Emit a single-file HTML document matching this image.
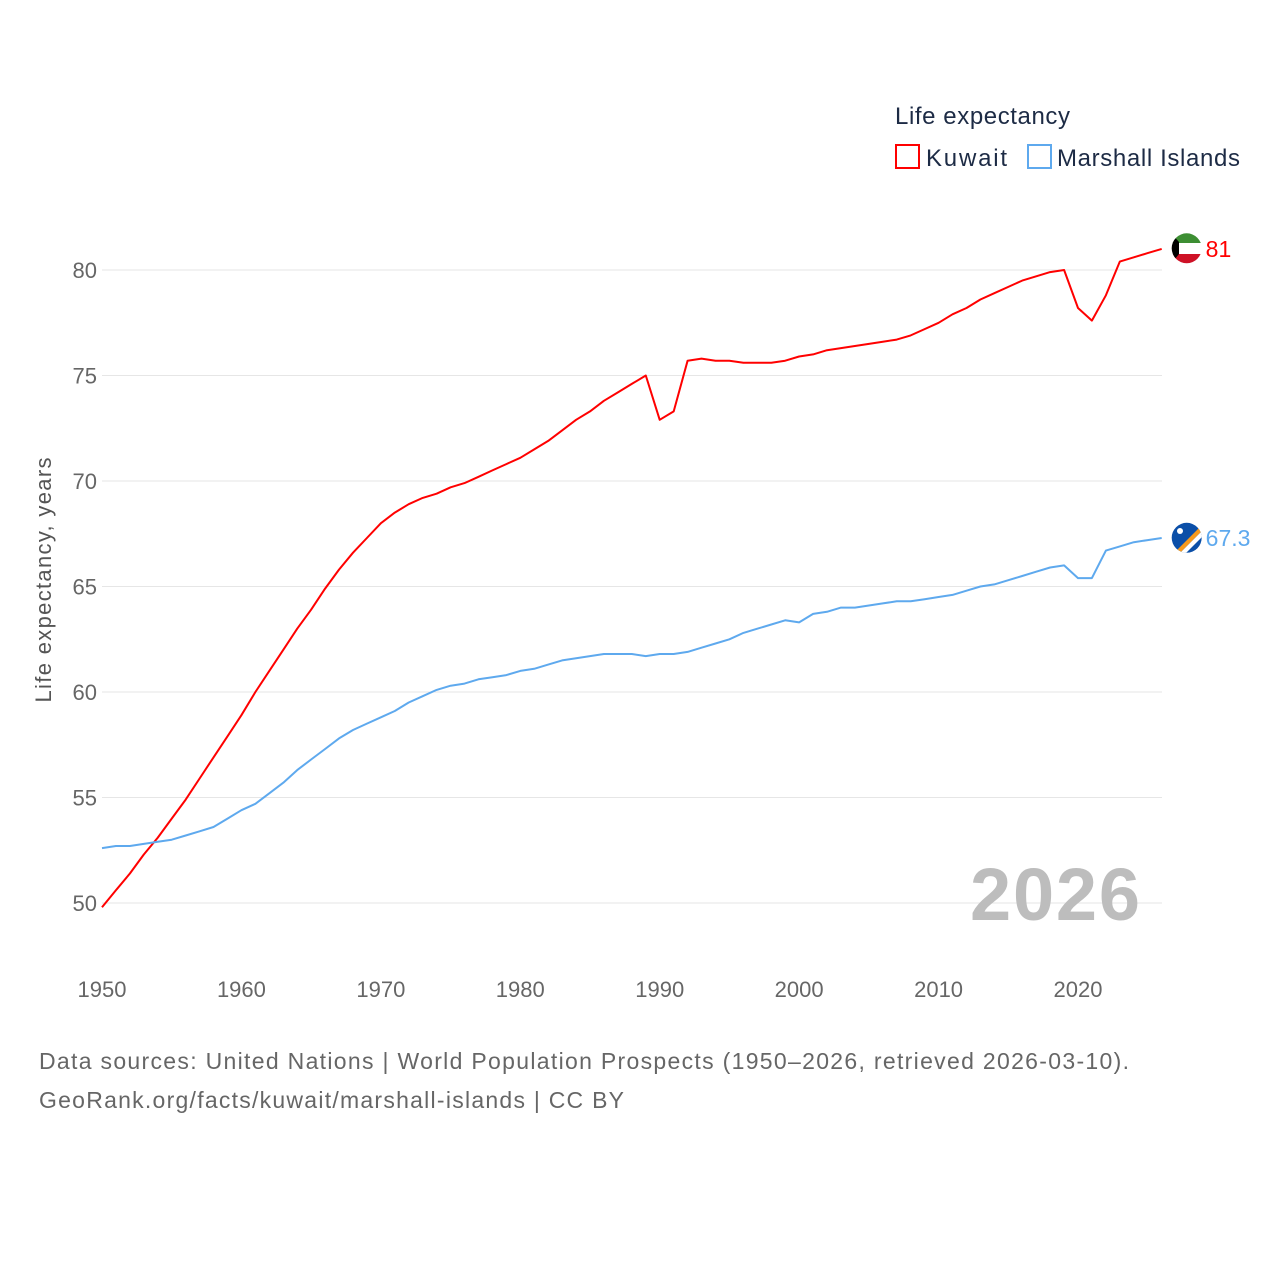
<!DOCTYPE html>
<html><head><meta charset="utf-8"><style>
body{margin:0;background:#fff;font-family:"Liberation Sans",sans-serif;}
svg text{font-family:"Liberation Sans",sans-serif;}
</style></head><body>
<svg id="chart" width="1280" height="1280">
<defs>
<clipPath id="kwclip"><circle cx="1186.7" cy="248.3" r="15"/></clipPath>
<clipPath id="mhclip"><circle cx="1186.7" cy="537.8" r="15"/></clipPath>
</defs>
<text x="895" y="124" font-size="24" fill="#1d2b45" textLength="175">Life expectancy</text>
<g><rect x="896" y="145" width="23" height="23" fill="none" stroke="#f00" stroke-width="2"/><text x="926" y="166" font-size="24" fill="#1d2b45" textLength="81">Kuwait</text></g>
<g><rect x="1028" y="145" width="23" height="23" fill="none" stroke="#5ea9ee" stroke-width="2"/><text x="1057" y="166" font-size="24" fill="#1d2b45" textLength="183">Marshall Islands</text></g>
<g id="grid"></g><g id="axes"></g><g id="series"></g>
<g clip-path="url(#kwclip)">
<rect x="1170" y="232" width="34" height="11" fill="#3d8e33"/><rect x="1170" y="243" width="34" height="11" fill="#fff"/><rect x="1170" y="254" width="34" height="11" fill="#ce1126"/>
<polygon points="1170,232 1179,242 1179,254 1170,265" fill="#000"/></g>
<g clip-path="url(#mhclip)">
<rect x="1170" y="521" width="34" height="34" fill="#0b4fa8"/>
<polygon points="1174,553 1204,523 1204,529 1180,553" fill="#f79a1b"/>
<polygon points="1180,553 1204,529 1204,535 1186,553" fill="#fff"/>
<circle cx="1180" cy="531" r="3" fill="#fff"/></g>
<text x="1140" y="920" text-anchor="end" font-size="74" font-weight="bold" fill="#bdbdbd" textLength="170">2026</text>
<text transform="translate(51,580) rotate(-90)" text-anchor="middle" font-size="22" fill="#555" textLength="245">Life expectancy, years</text>
<text x="39" y="1069" font-size="23" fill="#666" textLength="1090">Data sources: United Nations | World Population Prospects (1950–2026, retrieved 2026-03-10).</text>
<text x="39" y="1108" font-size="23" fill="#666" textLength="585">GeoRank.org/facts/kuwait/marshall-islands | CC BY</text>
</svg>
<script>
const years=[];for(let y=1950;y<=2026;y++)years.push(y);
const kuwait=[49.8,50.6,51.4,52.3,53.1,54.0,54.9,55.9,56.9,57.9,58.9,60.0,61.0,62.0,63.0,63.9,64.9,65.8,66.6,67.3,68.0,68.5,68.9,69.2,69.4,69.7,69.9,70.2,70.5,70.8,71.1,71.5,71.9,72.4,72.9,73.3,73.8,74.2,74.6,75.0,72.9,73.3,75.7,75.8,75.7,75.7,75.6,75.6,75.6,75.7,75.9,76.0,76.2,76.3,76.4,76.5,76.6,76.7,76.9,77.2,77.5,77.9,78.2,78.6,78.9,79.2,79.5,79.7,79.9,80.0,78.2,77.6,78.8,80.4,80.6,80.8,81.0];
const marshall=[52.6,52.7,52.7,52.8,52.9,53.0,53.2,53.4,53.6,54.0,54.4,54.7,55.2,55.7,56.3,56.8,57.3,57.8,58.2,58.5,58.8,59.1,59.5,59.8,60.1,60.3,60.4,60.6,60.7,60.8,61.0,61.1,61.3,61.5,61.6,61.7,61.8,61.8,61.8,61.7,61.8,61.8,61.9,62.1,62.3,62.5,62.8,63.0,63.2,63.4,63.3,63.7,63.8,64.0,64.0,64.1,64.2,64.3,64.3,64.4,64.5,64.6,64.8,65.0,65.1,65.3,65.5,65.7,65.9,66.0,65.4,65.4,66.7,66.9,67.1,67.2,67.3];
const yTicks=[50,55,60,65,70,75,80];
const xTicks=[1950,1960,1970,1980,1990,2000,2010,2020];
const NS="http://www.w3.org/2000/svg";
const X=y=>102+(y-1950)*(1078-102)/70;
const Y=v=>270+(80-v)*(903-270)/30;
function mk(t,a,p){const e=document.createElementNS(NS,t);for(const k in a)e.setAttribute(k,a[k]);p.appendChild(e);return e;}
const g=document.getElementById('grid'),ax=document.getElementById('axes'),s=document.getElementById('series');
yTicks.forEach(v=>{
 const l=mk('line',{x1:102,x2:1162,y1:Y(v),y2:Y(v),stroke:'#e6e6e6','stroke-width':1},g);
 
 
 const t=mk('text',{x:97,y:Y(v)+8,'text-anchor':'end','font-size':22,fill:'#666'},ax);t.textContent=v;
 
 
});
xTicks.forEach(y=>{
 const t=mk('text',{x:X(y),y:997,'text-anchor':'middle','font-size':22,fill:'#666'},ax);t.textContent=y;
 
 
});
function line(data,color,name){
 const d=data.map((v,i)=>(i?'L':'M')+X(years[i]).toFixed(1)+','+Y(v).toFixed(1)).join('');
 const p=mk('path',{d:d,fill:'none',stroke:color,'stroke-width':2,'stroke-linejoin':'round'},s);
 
 
 const last=data[data.length-1],lx=X(years[years.length-1]);
 const t=mk('text',{x:lx+44,y:Y(last)+8,'font-size':23,fill:color},s);t.textContent=last;
 
 
}
line(kuwait,'#f00','kuwait');
line(marshall,'#5ea9ee','marshall-islands');
</script>
</body></html>
